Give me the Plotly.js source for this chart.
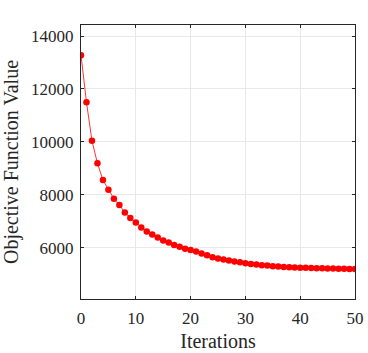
<!DOCTYPE html>
<html>
<head>
<meta charset="utf-8">
<script src="https://cdn.plot.ly/plotly-3.0.1.min.js"></script>
<style>
  html, body { margin: 0; padding: 0; background: #fff; }
  #chart { width: 368px; height: 353px; }
</style>
</head>
<body>
<div id="chart"></div>
<script>
// objective value per iteration
const ITERATIONS = Array.from({ length: 51 }, (_, i) => i);
const OBJECTIVE = [
  13280, 11500, 10040, 9186, 8557, 8190, 7848, 7610, 7330, 7117,
  6951, 6762, 6610, 6496, 6383, 6269, 6193, 6095, 6030, 5955,
  5905, 5852, 5775, 5710, 5636, 5583, 5545, 5508, 5470, 5447,
  5409, 5383, 5356, 5333, 5318, 5295, 5280, 5268, 5258, 5246,
  5240, 5234, 5228, 5222, 5216, 5211, 5206, 5202, 5198, 5194,
  5190,
];
const X_TICKS = [0, 10, 20, 30, 40, 50];
const Y_TICKS = [6000, 8000, 10000, 12000, 14000];

const FONT = 'Liberation Serif';

const trace = {
  x: ITERATIONS, y: OBJECTIVE,
  mode: 'lines+markers',
  line: { color: '#ff0000', width: 0.8 },
  marker: { color: '#ff0000', size: 6.5 },
  hoverinfo: 'x+y',
};

const layout = {
  width: 368, height: 353,
  margin: { l: 81, r: 13, t: 25, b: 54 },
  paper_bgcolor: '#fff', plot_bgcolor: '#fff',
  showlegend: false,
  font: { family: FONT, size: 17, color: '#262626' },
  xaxis: {
    showline: true, linecolor: '#262626', linewidth: 1, mirror: 'ticks',
    ticks: 'inside', ticklen: 3, tickcolor: '#262626',
    showgrid: true, gridcolor: '#e8e8e8', zeroline: false,
    range: [0, 50], tickvals: X_TICKS, tickformat: 'd',
    tickfont: { family: FONT, size: 17, color: '#262626' },
    ticklabelstandoff: 4,
    title: { text: 'Iterations', font: { family: FONT, size: 20, color: '#262626' }, standoff: 6 },
  },
  yaxis: {
    showline: true, linecolor: '#262626', linewidth: 1, mirror: 'ticks',
    ticks: 'inside', ticklen: 3, tickcolor: '#262626',
    showgrid: true, gridcolor: '#e8e8e8', zeroline: false,
    range: [4055, 14420], tickvals: Y_TICKS, tickformat: 'd',
    tickfont: { family: FONT, size: 17, color: '#262626' },
    ticklabelstandoff: 3,
    title: { text: 'Objective Function Value', font: { family: FONT, size: 20, color: '#262626' }, standoff: 8 },
  },
};

Plotly.newPlot('chart', [trace], layout, { displayModeBar: false, staticPlot: true });
</script>
</body>
</html>
